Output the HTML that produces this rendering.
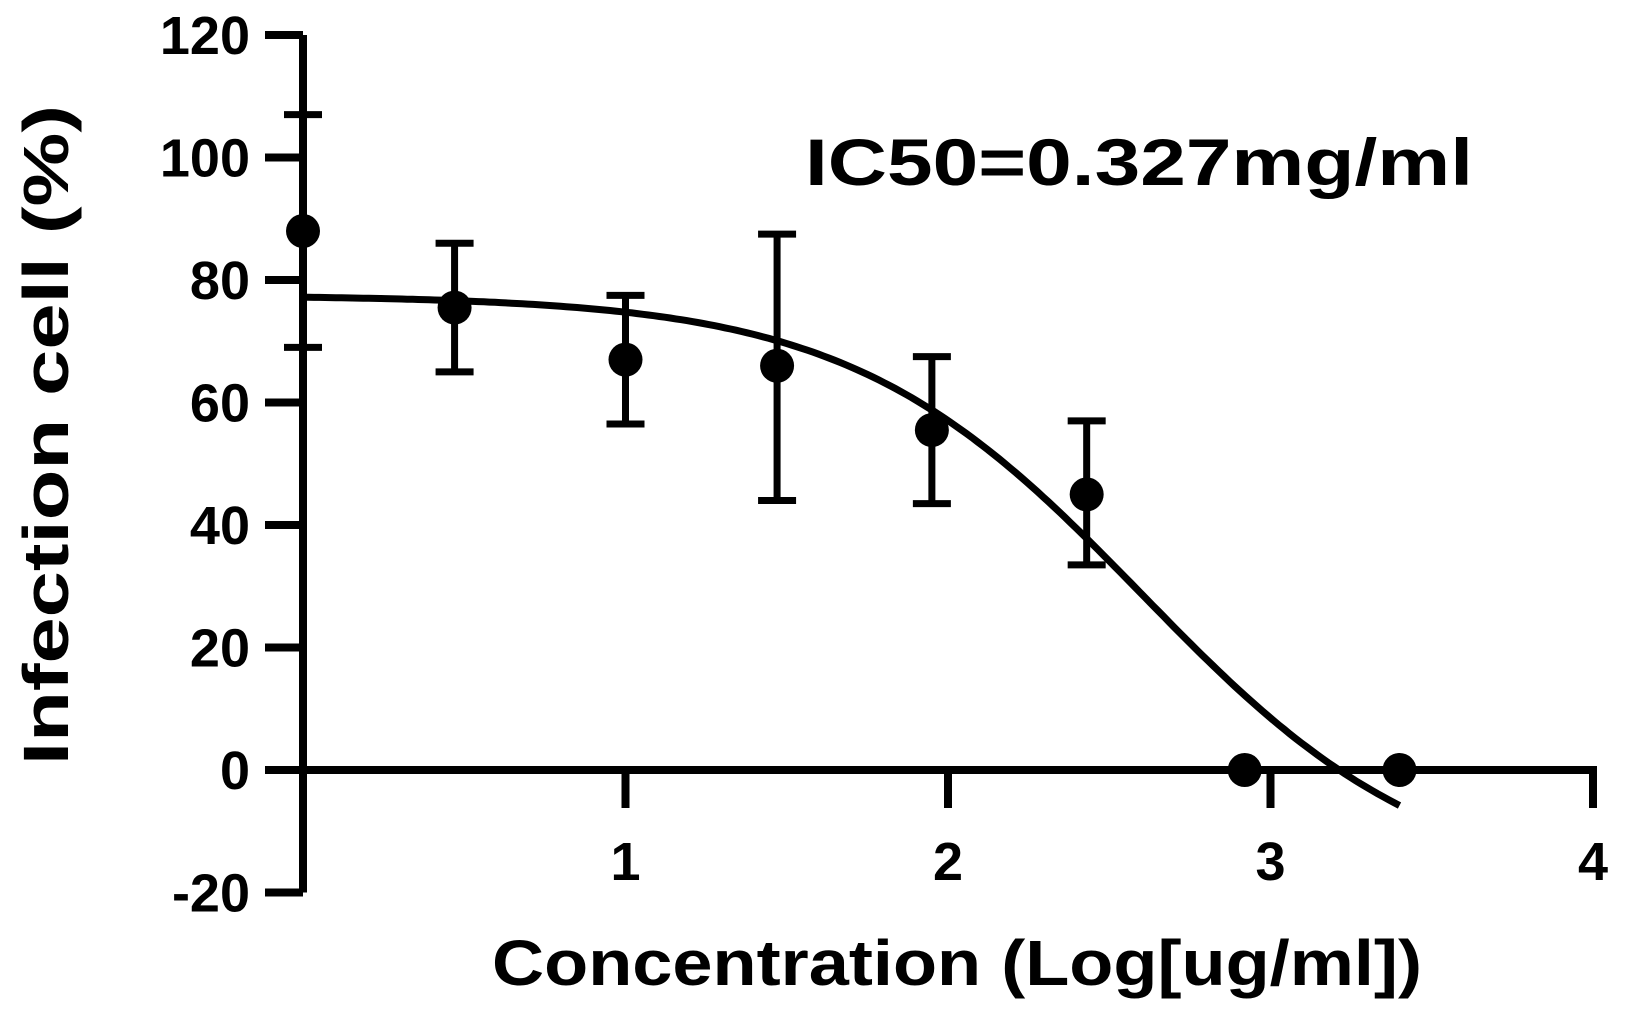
<!DOCTYPE html>
<html><head><meta charset="utf-8"><style>
html,body{margin:0;padding:0;background:#fff;}
svg{display:block;font-family:"Liberation Sans",Arial,sans-serif;font-weight:bold;}
</style></head><body>
<svg id="chart" width="1625" height="1011" viewBox="0 0 1625 1011">
<g id="axes"></g>
<g id="curve"></g>
<g id="points"></g>
<text x="0" y="0" transform="translate(68,435) rotate(-90)" text-anchor="middle" font-size="64" textLength="660" lengthAdjust="spacingAndGlyphs">Infection cell (%)</text>
<text x="957" y="985" text-anchor="middle" font-size="64" textLength="930" lengthAdjust="spacingAndGlyphs">Concentration (Log[ug/ml])</text>
<text x="805" y="185" font-size="66" textLength="668" lengthAdjust="spacingAndGlyphs">IC50=0.327mg/ml</text>
</svg>
<script>
const xs = [0, 0.47, 1.0, 1.47, 1.95, 2.43, 2.92, 3.4];
const ys = [88, 75.5, 67, 66, 55.5, 45, 0, 0];
const errLow = [69, 65, 56.5, 44, 43.5, 33.5, null, null];
const errHigh = [107, 86, 77.5, 87.5, 67.5, 57, null, null];
const yTicks = [120, 100, 80, 60, 40, 20, 0, -20];
const xTicks = [1, 2, 3, 4];
const fitTop = 77.5, fitBottom = -20, fitLogIC50 = 2.6, fitHill = 0.96;

const NS = "http://www.w3.org/2000/svg";
const X = v => 303 + v * 322.5;
const Y = v => 770 - v * 6.125;
function mk(tag, attrs, parent) {
  const e = document.createElementNS(NS, tag);
  for (const k in attrs) e.setAttribute(k, attrs[k]);
  parent.appendChild(e);
  return e;
}
const axes = document.getElementById('axes');
let l = mk('line', {x1: X(0), y1: Y(120), x2: X(0), y2: Y(-20), stroke: '#000', 'stroke-width': 8}, axes);


l = mk('line', {x1: X(0), y1: Y(0), x2: X(4) + 4, y2: Y(0), stroke: '#000', 'stroke-width': 8}, axes);


yTicks.forEach(t => {
  const tk = mk('line', {x1: X(0) - 38, y1: Y(t), x2: X(0), y2: Y(t), stroke: '#000', 'stroke-width': 8}, axes);
  
  
  const tx = mk('text', {x: 250, y: Y(t) + 19, 'text-anchor': 'end', 'font-size': 54}, axes);
  tx.textContent = t;
  
  
});
xTicks.forEach(t => {
  const tk = mk('line', {x1: X(t), y1: Y(0), x2: X(t), y2: Y(0) + 38, stroke: '#000', 'stroke-width': 8}, axes);
  
  
  const tx = mk('text', {x: X(t), y: 880, 'text-anchor': 'middle', 'font-size': 54}, axes);
  tx.textContent = t;
  
  
});
// fit curve
let d = '';
for (let i = 0; i <= 200; i++) {
  const x = 3.4 * i / 200;
  const y = fitBottom + (fitTop - fitBottom) / (1 + Math.pow(10, (x - fitLogIC50) * fitHill));
  d += (i ? 'L' : 'M') + X(x).toFixed(1) + ',' + Y(y).toFixed(1);
}
const cp = mk('path', {d: d, fill: 'none', stroke: '#000', 'stroke-width': 7}, document.getElementById('curve'));


const pts = document.getElementById('points');
xs.forEach((x, i) => {
  if (errLow[i] !== null) {
    const g = mk('path', {d: `M${X(x)},${Y(errLow[i])}V${Y(errHigh[i])}M${X(x)-19},${Y(errLow[i])}H${X(x)+19}M${X(x)-19},${Y(errHigh[i])}H${X(x)+19}`, stroke: '#000', 'stroke-width': 7, fill: 'none'}, pts);
    
    
  }
  const c = mk('circle', {cx: X(x), cy: Y(ys[i]), r: 17, fill: '#000'}, pts);
  
  
});
</script>
</body></html>
